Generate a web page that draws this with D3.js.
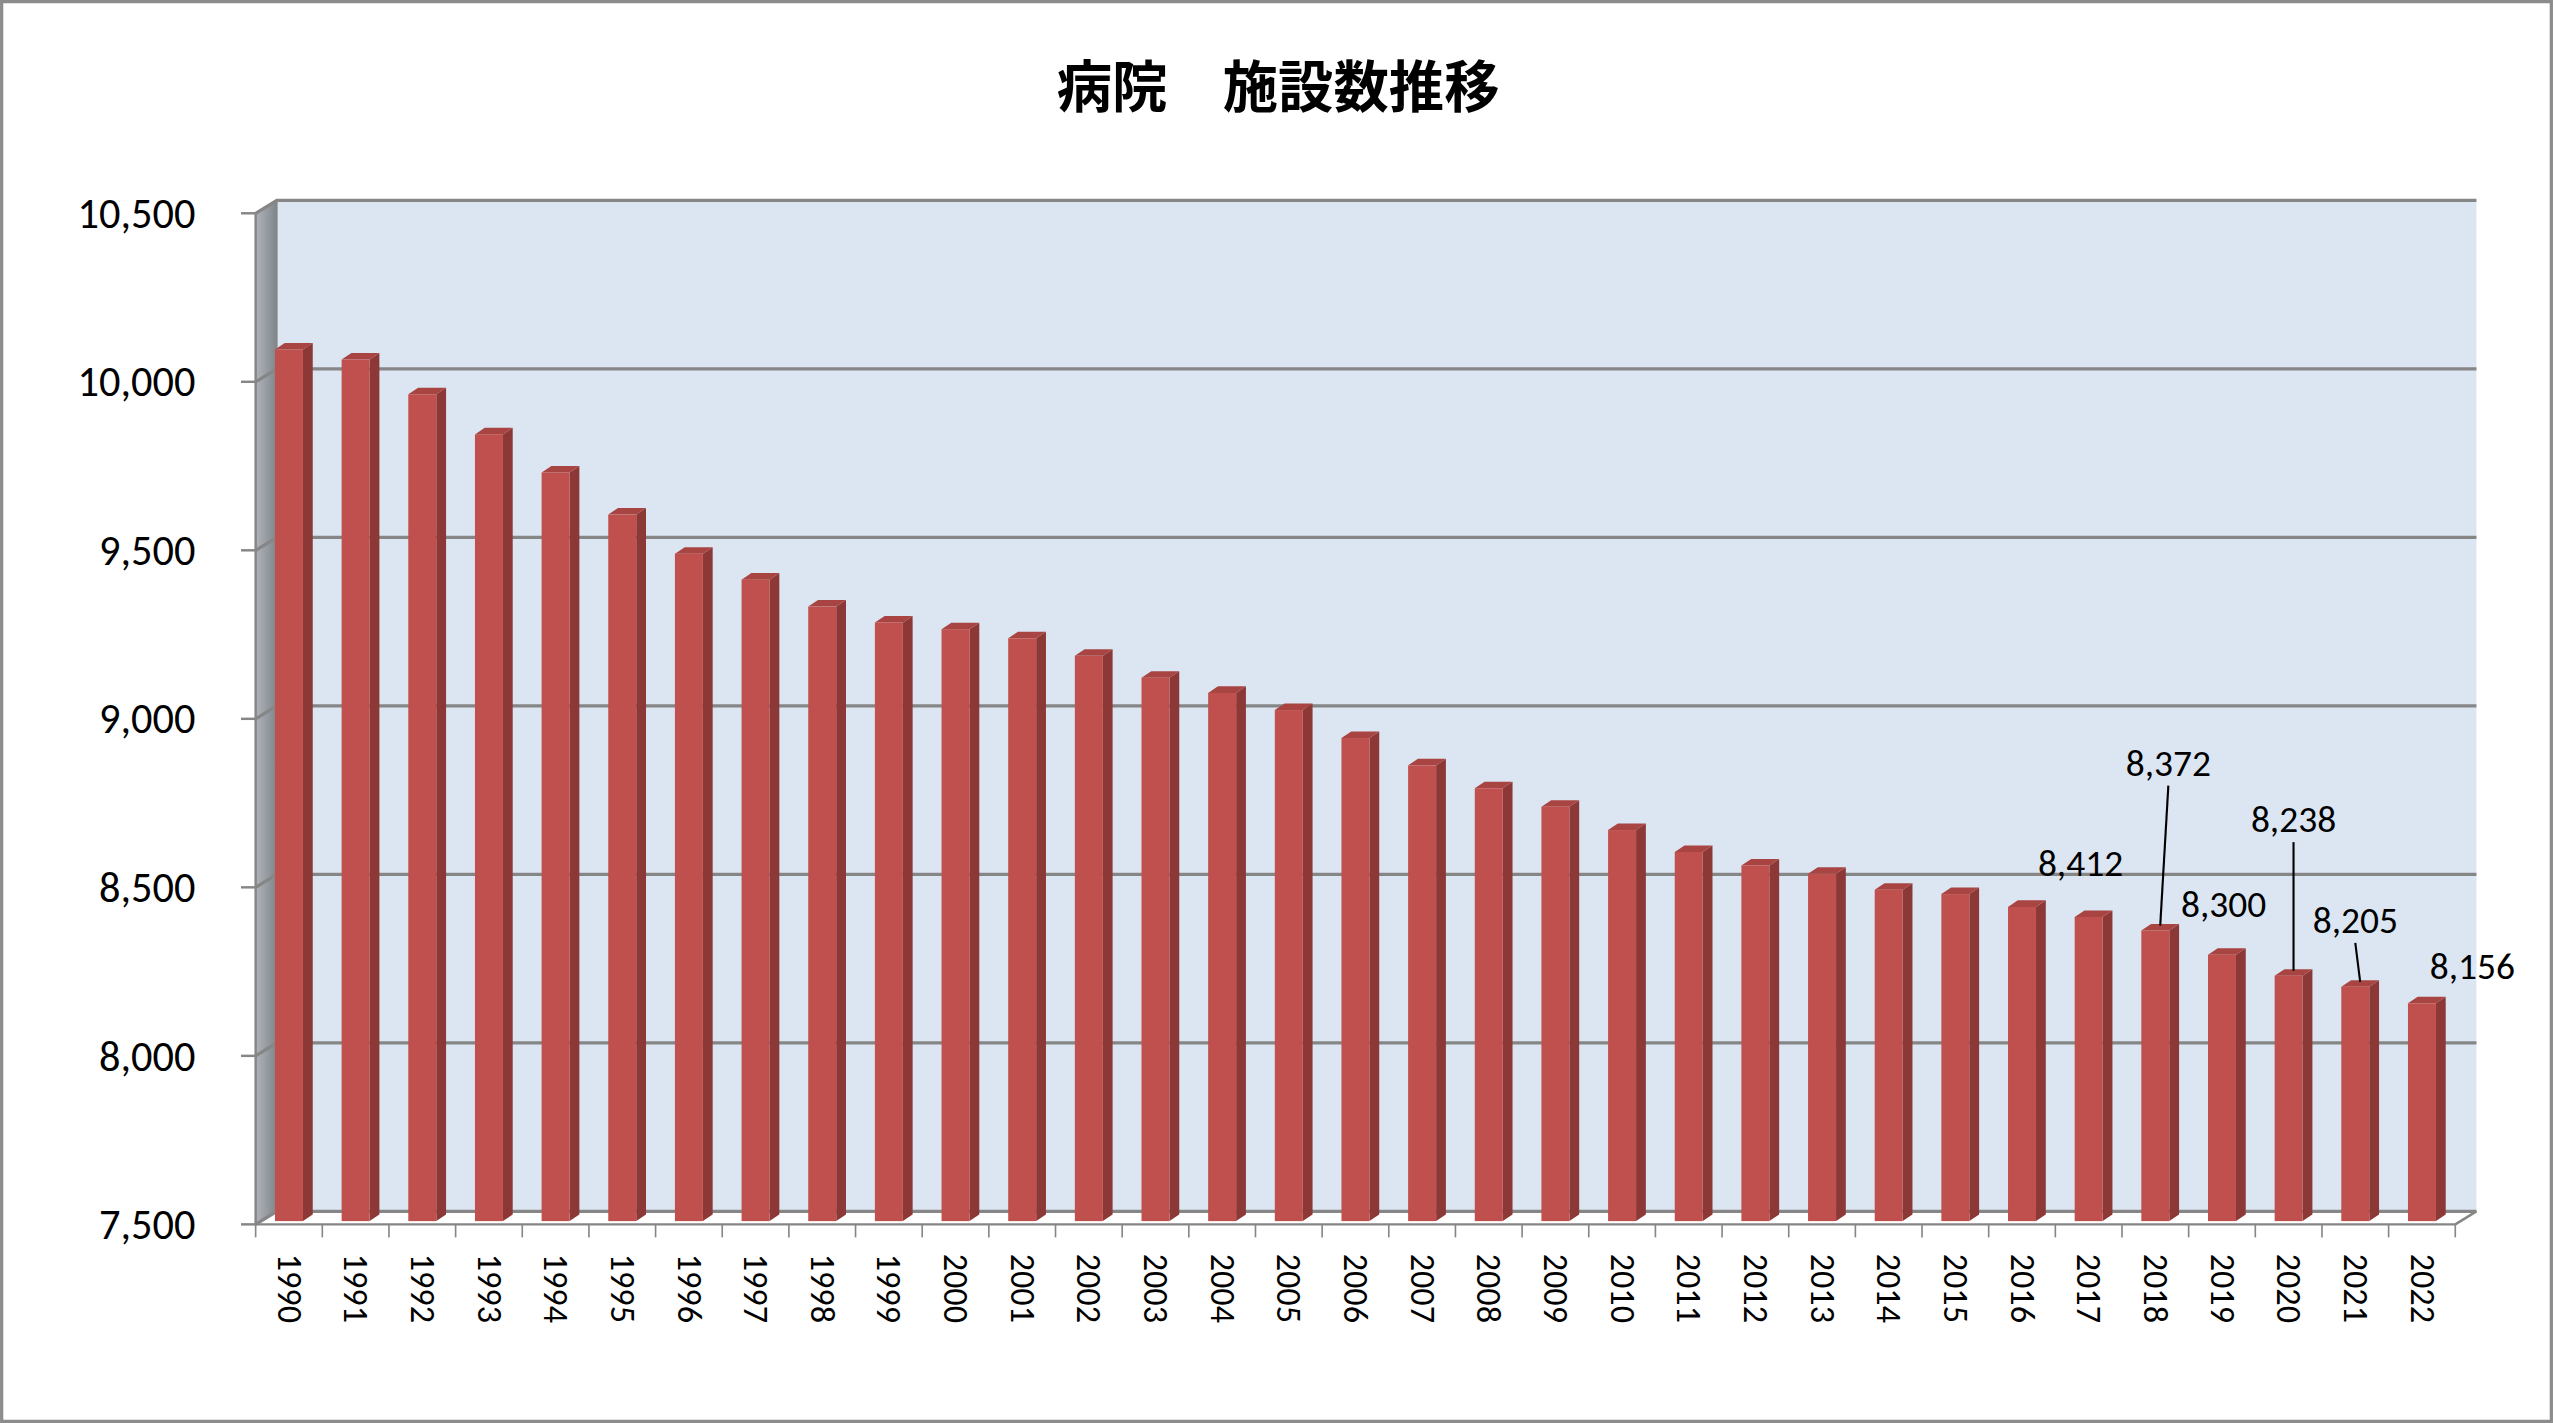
<!DOCTYPE html>
<html><head><meta charset="utf-8">
<script src="https://cdn.jsdelivr.net/npm/d3@7"></script>
<style>body{margin:0;background:#fff}text{font-family:Calibri,"Liberation Sans Narrow","Noto Sans CJK JP",sans-serif}</style>
</head><body>
<script>
const years = d3.range(1990, 2023).map(String);
const counts = [10096,10066,9963,9844,9731,9606,9490,9413,9333,9286,9266,9239,9187,9122,9077,9026,8943,8862,8794,8739,8670,8605,8565,8540,8493,8480,8442,8412,8372,8300,8238,8205,8156];
const yTicks = [7500,8000,8500,9000,9500,10000,10500];
// labelled years and where their callouts sit (offset from bar top, in view units)
const callouts = [
  {year:'2017', dx:-8, dy:-22, line:false},
  {year:'2018', dx:5, dy:-92, line:true},
  {year:'2019', dx:-2, dy:-20, line:false},
  {year:'2020', dx:0, dy:-85, line:true},
  {year:'2021', dx:-3, dy:-30, line:true},
  {year:'2022', dx:28, dy:-12, line:false}
];

const W = 1568, H = 874;
const svg = d3.select('body').append('svg')
  .attr('width', 2553).attr('height', 1423)
  .attr('viewBox', `0 0 ${W} ${H}`);
svg.append('rect').attr('x',1).attr('y',1).attr('width',W-2).attr('height',H-2)
  .attr('fill','#fff').attr('stroke','#8c8c8c').attr('stroke-width',2);

svg.append('text').attr('x',785).attr('y',66).attr('text-anchor','middle')
  .attr('font-size',34).attr('font-weight','bold').attr('fill','#000')
  .text('病院　施設数推移');

const x0 = 157, x1 = 1508, dX = 13, dY = -8;
const y = d3.scaleLinear().domain([7500,10500]).range([752,131]);
const x = d3.scaleBand().domain(years).range([x0,x1]).paddingInner(0.58).paddingOuter(0.29);

// back wall
svg.append('rect').attr('x',x0+dX).attr('y',y(10500)+dY).attr('width',x1-x0)
  .attr('height',y(7500)-y(10500)).attr('fill','#dce6f2');
const g0 = svg.append('defs').append('linearGradient').attr('id','lw');
g0.append('stop').attr('offset','0').attr('stop-color','#b0b4ba');
g0.append('stop').attr('offset','1').attr('stop-color','#80858c');
svg.append('polygon').attr('points',[[x0,y(10500)],[x0+dX,y(10500)+dY],[x0+dX,y(7500)+dY],[x0,y(7500)]].join(' '))
  .attr('fill','url(#lw)');
yTicks.forEach(t => {
  svg.append('polyline').attr('points',[[x0,y(t)],[x0+dX,y(t)+dY],[x1+dX,y(t)+dY]].join(' '))
    .attr('fill','none').attr('stroke','#868686').attr('stroke-width',2);
  svg.append('line').attr('x1',x0-9).attr('x2',x0).attr('y1',y(t)).attr('y2',y(t)).attr('stroke','#868686').attr('stroke-width',1.5);
  svg.append('text').attr('x',120).attr('y',y(t)+9).attr('text-anchor','end')
    .attr('font-size',26).text(d3.format(',')(t));
});
svg.append('line').attr('x1',x0+dX).attr('x2',x0+dX).attr('y1',y(10500)+dY).attr('y2',y(7500)+dY).attr('stroke','#868686');
svg.append('line').attr('x1',x0).attr('x2',x0).attr('y1',y(10500)).attr('y2',y(7500)).attr('stroke','#868686').attr('stroke-width',1.5);
svg.append('line').attr('x1',x0).attr('x2',x1).attr('y1',y(7500)).attr('y2',y(7500)).attr('stroke','#868686').attr('stroke-width',1.5);
svg.append('line').attr('x1',x1).attr('x2',x1+dX).attr('y1',y(7500)).attr('y2',y(7500)+dY).attr('stroke','#868686').attr('stroke-width',1.5);

// bars
const bd = 6, bdy = -4;
years.forEach((yr,i) => {
  const bx = x(yr), bw = x.bandwidth(), top = y(counts[i]), bot = y(7500)-2;
  const g = svg.append('g');
  g.append('polygon').attr('points',[[bx+bw,top],[bx+bw+bd,top+bdy],[bx+bw+bd,bot+bdy],[bx+bw,bot]].join(' ')).attr('fill','#8c3836');
  g.append('polygon').attr('points',[[bx,top],[bx+bd,top+bdy],[bx+bw+bd,top+bdy],[bx+bw,top]].join(' ')).attr('fill','#a84442');
  g.append('rect').attr('x',bx).attr('y',top).attr('width',bw).attr('height',bot-top).attr('fill','#c0504d');
  // x tick + label
  svg.append('line').attr('x1',x0+(x1-x0)*i/33).attr('x2',x0+(x1-x0)*i/33).attr('y1',y(7500)).attr('y2',y(7500)+8).attr('stroke','#868686');
  svg.append('text').attr('transform',`translate(${bx+bw/2-7},770) rotate(90)`)
    .attr('font-size',21).text(yr);
});
svg.append('line').attr('x1',x1).attr('x2',x1).attr('y1',y(7500)).attr('y2',y(7500)+8).attr('stroke','#868686');

callouts.forEach(c => {
  const i = years.indexOf(c.year), cx = x(c.year)+x.bandwidth()/2+3, cy = y(counts[i])-3;
  const tx = cx + c.dx, ty = cy + c.dy;
  if (c.line) svg.append('line').attr('x1',cx).attr('y1',cy).attr('x2',tx).attr('y2',ty+6).attr('stroke','#000').attr('stroke-width',1.3);
  svg.append('text').attr('x',tx).attr('y',ty).attr('text-anchor','middle').attr('font-size',23)
    .text(d3.format(',')(counts[i]));
});
</script>
</body></html>
